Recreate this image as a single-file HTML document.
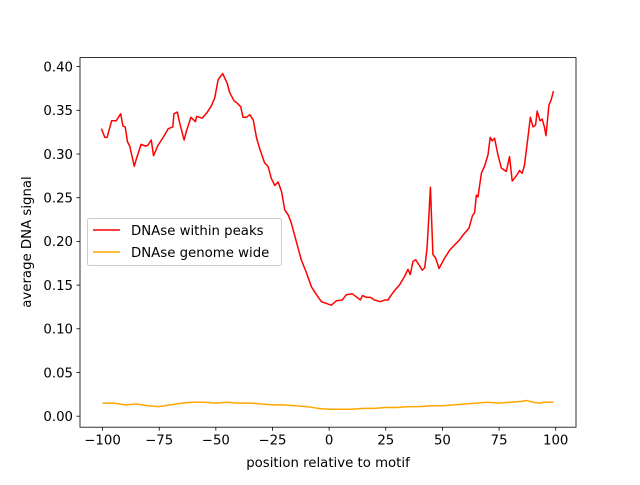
<!DOCTYPE html>
<html><head><meta charset="utf-8"><style>
body{margin:0;background:#fff}
svg text{font-family:"DejaVu Sans","Liberation Sans",sans-serif;font-size:13.3px;fill:#000}
</style></head><body>
<svg id="c" width="640" height="480">
<rect x="0" y="0" width="640" height="480" fill="#fff"/>
</svg>
<script>
const peaksX=[-100.5,-99,-98,-96,-94,-92,-91,-90,-89,-88,-86,-85,-83,-81,-80,-78.5,-77.5,-75.5,-73,-71,-69,-68.5,-67,-66,-64,-63,-61,-59,-58.5,-56,-54,-52,-50.5,-49,-47,-45,-44,-42,-40.5,-39,-38,-36.5,-35,-33.5,-32,-30.5,-28.5,-27,-25.5,-24,-22.5,-21,-19.6,-18,-16.7,-14.5,-12.3,-10,-7.8,-5.6,-3.4,-1.2,1,3.2,5.8,7.6,10.2,12.3,13.8,14.7,16.5,18.3,20,22.6,24.6,26,27.5,29.3,31,33.3,34.8,35.8,37,38.2,39.7,41.1,42.2,43.2,44,44.7,45.8,47,48.5,51,53.2,55.4,57.3,59,61.7,63.2,64.2,65,65.7,67.2,68.6,70.1,71.1,72,73,74.5,76,78.2,79.6,80.8,82.6,84,85.2,86.2,87.7,88.8,90,91.1,91.8,93.1,94,95,95.7,97,98,99];
const peaksY=[0.329,0.319,0.319,0.338,0.338,0.346,0.332,0.331,0.314,0.309,0.286,0.295,0.311,0.309,0.31,0.316,0.298,0.31,0.32,0.329,0.331,0.346,0.348,0.336,0.316,0.326,0.342,0.337,0.343,0.341,0.347,0.355,0.364,0.385,0.392,0.381,0.371,0.361,0.358,0.354,0.342,0.342,0.345,0.339,0.318,0.305,0.29,0.286,0.272,0.264,0.268,0.257,0.236,0.23,0.221,0.2,0.179,0.164,0.148,0.139,0.131,0.129,0.127,0.132,0.133,0.139,0.14,0.136,0.133,0.138,0.136,0.136,0.133,0.131,0.133,0.133,0.139,0.145,0.15,0.16,0.168,0.162,0.177,0.179,0.173,0.167,0.17,0.192,0.228,0.262,0.185,0.181,0.169,0.181,0.19,0.196,0.201,0.207,0.215,0.229,0.233,0.253,0.251,0.278,0.286,0.299,0.319,0.315,0.318,0.299,0.284,0.28,0.297,0.269,0.275,0.281,0.278,0.287,0.318,0.342,0.331,0.333,0.349,0.338,0.34,0.331,0.321,0.356,0.362,0.372];
const genomeX=[-100,-95,-90,-85,-80,-75,-70,-65,-60,-55,-50,-45,-40,-35,-30,-25,-20,-15,-10,-5,0,5,10,15,20,25,30,35,40,45,50,55,60,65,70,75,80,85,87,90,93,95,99];
const genomeY=[0.015,0.015,0.013,0.014,0.012,0.011,0.013,0.015,0.016,0.016,0.015,0.016,0.015,0.015,0.014,0.013,0.013,0.012,0.011,0.009,0.008,0.008,0.008,0.009,0.009,0.010,0.010,0.011,0.011,0.012,0.012,0.013,0.014,0.015,0.016,0.015,0.016,0.017,0.018,0.016,0.015,0.016,0.016];
const xTicks=[-100,-75,-50,-25,0,25,50,75,100];
const yTicks=[0,0.05,0.10,0.15,0.20,0.25,0.30,0.35,0.40];
const yTickLabels=["0.00","0.05","0.10","0.15","0.20","0.25","0.30","0.35","0.40"];
const L=80,R=576,T=57.6,B=427.2;
const xmin=-109.95,xmax=108.95,ymin=-0.0126,ymax=0.4103;
const sx=v=>L+(v-xmin)/(xmax-xmin)*(R-L);
const sy=v=>B-(v-ymin)/(ymax-ymin)*(B-T);
const svg=document.getElementById('c');const NS='http://www.w3.org/2000/svg';
function mk(t,a,p){const e=document.createElementNS(NS,t);for(const k in a)e.setAttribute(k,a[k]);(p||svg).appendChild(e);return e;}
function line(xs,ys,color,name){const d=xs.map((x,i)=>(i?'L':'M')+sx(x).toFixed(2)+','+sy(ys[i]).toFixed(2)).join('');
const p=mk('path',{d:d,fill:'none',stroke:color,'stroke-width':1.5,'stroke-linejoin':'round'});

}
line(genomeX,genomeY,'#ffa500','series-genome-wide');
line(peaksX,peaksY,'#ff0000','series-within-peaks');
const fr=mk('rect',{x:L,y:T,width:R-L,height:B-T,fill:'none',stroke:'#000','stroke-width':0.8});


xTicks.forEach(v=>{const x=sx(v);mk('line',{x1:x,x2:x,y1:B,y2:B+3.5,stroke:'#000','stroke-width':0.8});
const t=mk('text',{x:x,y:B+17.5,'text-anchor':'middle'});t.textContent=String(v).replace('-','\u2212');

});
yTicks.forEach((v,i)=>{const y=sy(v);mk('line',{x1:L-3.5,x2:L,y1:y,y2:y,stroke:'#000','stroke-width':0.8});
const t=mk('text',{x:L-7,y:y+4.8,'text-anchor':'end'});t.textContent=yTickLabels[i];

});
const xl=mk('text',{x:(L+R)/2,y:467,'text-anchor':'middle'});xl.textContent='position relative to motif';


const yl=mk('text',{x:0,y:0,'text-anchor':'middle',transform:'translate(31,242) rotate(-90)'});yl.textContent='average DNA signal';


const g=mk('g',{});


mk('rect',{x:87.5,y:218.5,width:194,height:47,rx:2,fill:'#fff','fill-opacity':0.8,stroke:'#ccc','stroke-width':1},g);
mk('line',{x1:93,x2:120,y1:230,y2:230,stroke:'#ff0000','stroke-width':1.5},g);
mk('line',{x1:93,x2:120,y1:252,y2:252,stroke:'#ffa500','stroke-width':1.5},g);
const t1=mk('text',{x:131,y:235},g);t1.textContent='DNAse within peaks';


const t2=mk('text',{x:131,y:257},g);t2.textContent='DNAse genome wide';


</script>
</body></html>
